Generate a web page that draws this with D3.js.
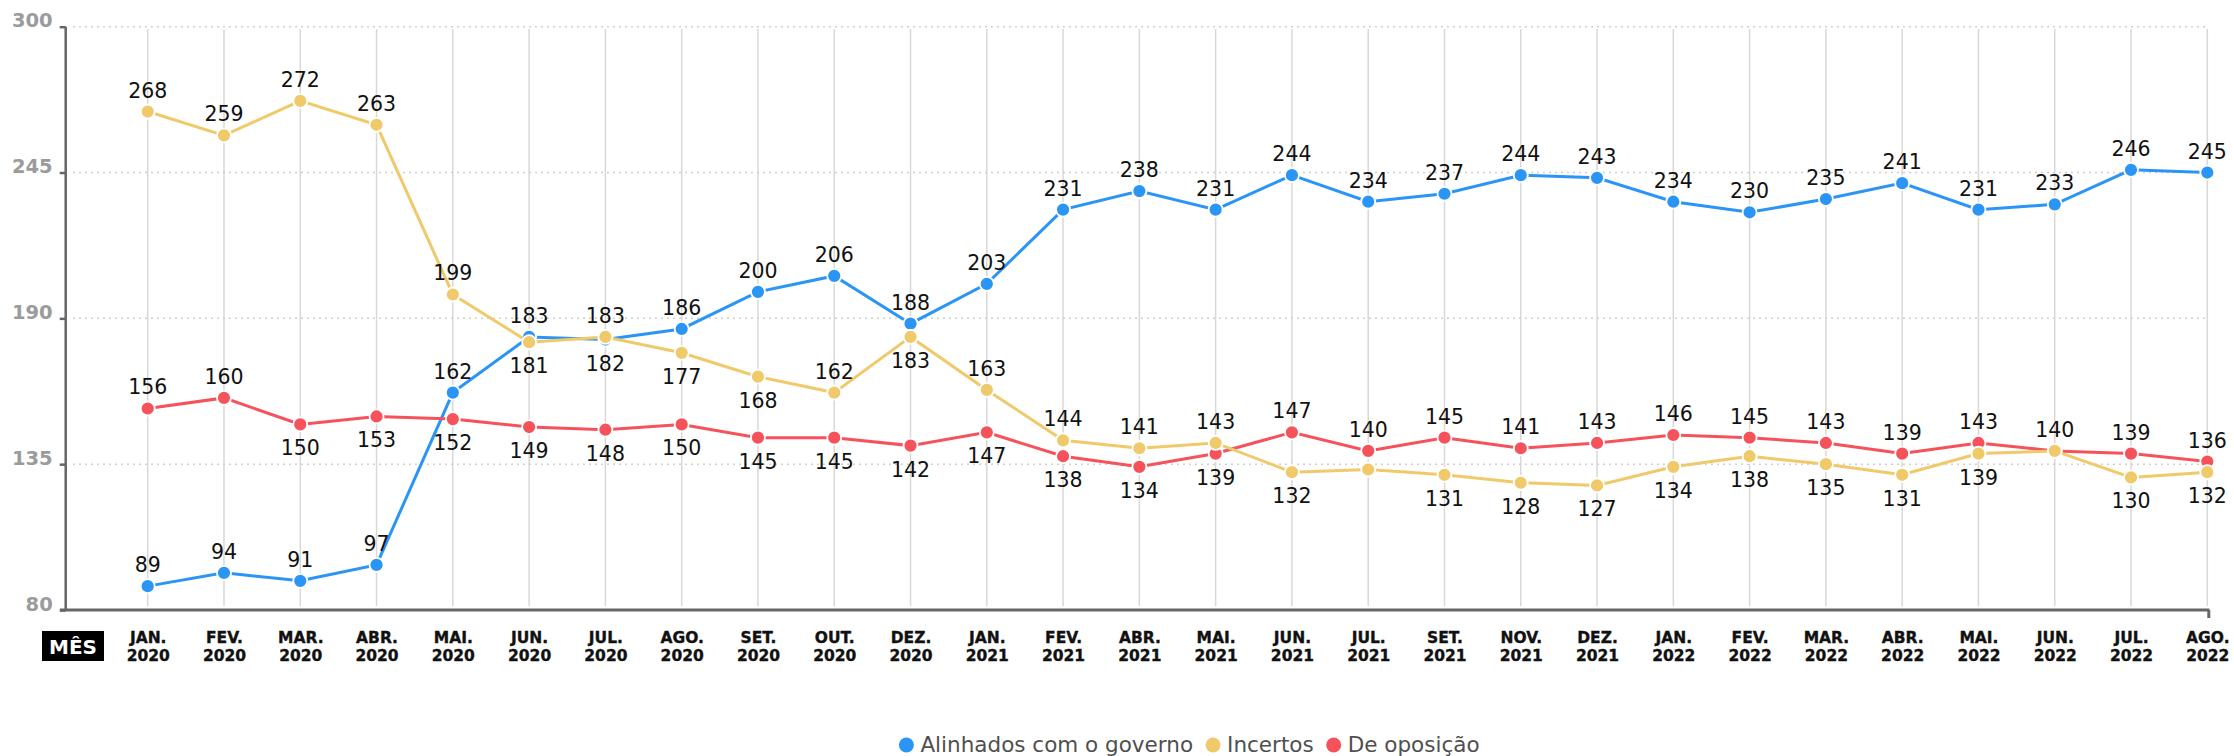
<!DOCTYPE html>
<html><head><meta charset="utf-8">
<script src="https://cdn.jsdelivr.net/npm/d3@7"></script>
<style>body{margin:0;background:#fff} svg{display:block}</style>
</head><body>
<svg id="c" width="2234" height="756"></svg>
<script>
const months = ["JAN. 2020","FEV. 2020","MAR. 2020","ABR. 2020","MAI. 2020","JUN. 2020","JUL. 2020","AGO. 2020","SET. 2020","OUT. 2020","DEZ. 2020","JAN. 2021","FEV. 2021","ABR. 2021","MAI. 2021","JUN. 2021","JUL. 2021","SET. 2021","NOV. 2021","DEZ. 2021","JAN. 2022","FEV. 2022","MAR. 2022","ABR. 2022","MAI. 2022","JUN. 2022","JUL. 2022","AGO. 2022"];
const alinhados = [89,94,91,97,162,183,182,186,200,206,188,203,231,238,231,244,234,237,244,243,234,230,235,241,231,233,246,245];
const incertos  = [268,259,272,263,199,181,183,177,168,162,183,163,144,141,143,132,133,131,128,127,134,138,135,131,139,140,130,132];
const oposicao  = [156,160,150,153,152,149,148,150,145,145,142,147,138,134,139,147,140,145,141,143,146,145,143,139,143,140,139,136];
const yTicks = [80,135,190,245,300];
const seriesNames = ["Alinhados com o governo","Incertos","De oposição"];
const seriesColors = ["#2b95f6","#f0c96a","#f6525b"];
// label placement per point: a = above, b = below, n = not shown
const placeAlinhados = "aaaaaabaaaaaaaaaaaaaaaaaaaaa";
const placeIncertos  = "aaaaababbabaaaabnbbbbbbbbnbb";
const placeOposicao  = "aabbbbbbbbbbbbbaaaaaaaaaaaaa";
const axisTitle = "MÊS";

const svg = d3.select("#c");
const x = d3.scalePoint().domain(months).range([147.7, 2207.3]);
const y = d3.scaleLinear().domain([80, 300]).range([610, 26.7]);
const FONT = "'DejaVu Sans', sans-serif";

// vertical gridlines
svg.append("g").selectAll("line").data(months).join("line")
  .attr("x1", d => x(d)).attr("x2", d => x(d))
  .attr("y1", 29).attr("y2", 606)
  .attr("stroke", "#d8d8d8").attr("stroke-width", 1.5);

// horizontal dotted gridlines
svg.append("g").selectAll("line").data(yTicks.filter(t => t > 80)).join("line")
  .attr("x1", 73).attr("x2", x(months[months.length-1]))
  .attr("y1", d => y(d)).attr("y2", d => y(d))
  .attr("stroke", "#cfcfcf").attr("stroke-width", 1.5).attr("stroke-dasharray", "2,4");

// y axis
const yAxis = svg.append("g").attr("transform", "translate(65.7,0)")
  .call(d3.axisLeft(y).tickValues(yTicks).tickSize(6).tickPadding(7));
yAxis.select(".domain").attr("stroke", "#666").attr("stroke-width", 2.5).attr("d", `M0,${y(300)}V${y(80)}`);
yAxis.selectAll(".tick line").attr("stroke", "#666").attr("stroke-width", 2.5).attr("x2", -6);
yAxis.selectAll(".tick text").attr("fill", "#9b9b9b").attr("font-family", FONT)
  .attr("font-weight", "bold").attr("font-size", 19.5).attr("dy", 0).attr("x", -13);

// x axis
const xAxis = svg.append("g").attr("transform", "translate(0,610)")
  .call(d3.axisBottom(x).tickSize(0).tickPadding(0));
xAxis.select(".domain").attr("stroke", "#666").attr("stroke-width", 3)
  .attr("d", `M60,0H${x(months[months.length-1])+2}M${x(months[months.length-1])+1.5},0V8`);
xAxis.selectAll(".tick text").each(function(d){
  const t = d3.select(this).text("").attr("font-family", FONT).attr("font-weight", "bold")
    .attr("font-size", 15.5).attr("fill", "#111").attr("stroke", "#111").attr("stroke-width", 0.35)
    .attr("y", 0).attr("dy", null);
  const parts = d.split(" ");
  t.append("tspan").attr("x", 0).attr("y", 33).text(parts[0]);
  t.append("tspan").attr("x", 0).attr("y", 51).text(parts[1]);
});

// axis title box
svg.append("rect").attr("x", 42).attr("y", 631).attr("width", 62).attr("height", 30).attr("fill", "#000");
svg.append("text").attr("x", 73).attr("y", 654).attr("text-anchor", "middle")
  .attr("font-family", FONT).attr("font-weight", "bold").attr("font-size", 20).attr("fill", "#fff").text(axisTitle);

// series
const series = [
  {name: seriesNames[0], values: alinhados, place: placeAlinhados, color: seriesColors[0]},
  {name: seriesNames[2], values: oposicao, place: placeOposicao, color: seriesColors[2]},
  {name: seriesNames[1], values: incertos, place: placeIncertos, color: seriesColors[1]}
];
const line = d3.line().x((d, i) => x(months[i])).y(d => y(d));
series.forEach(s => {
  const g = svg.append("g");
  g.append("path").datum(s.values).attr("d", line).attr("fill", "none")
    .attr("stroke", s.color).attr("stroke-width", 3);
  g.selectAll("circle").data(s.values).join("circle")
    .attr("cx", (d, i) => x(months[i])).attr("cy", d => y(d)).attr("r", 7)
    .attr("fill", s.color).attr("stroke", "#fff").attr("stroke-width", 1.8);
});
// labels
series.forEach(s => {
  svg.append("g").selectAll("text").data(s.values.map((v, i) => ({v, i, p: s.place[i]})).filter(d => d.p !== "n"))
    .join("text")
    .attr("x", d => x(months[d.i])).attr("y", d => y(d.v) + (d.p === "a" ? -14 : 31))
    .attr("text-anchor", "middle").attr("font-family", FONT).attr("font-size", 20.5)
    .attr("fill", "#111").text(d => d.v);
});

// legend
const legend = svg.append("g");
const order = [0, 1, 2];
let lx = 0;
order.forEach(k => {
  const g = legend.append("g");
  g.append("circle").attr("cx", 0).attr("cy", 745).attr("r", 7.5).attr("fill", seriesColors[k]);
  const t = g.append("text").attr("x", 14).attr("y", 752).attr("font-family", FONT)
    .attr("font-size", 21.5).attr("fill", "#4f4f4f").text(seriesNames[k]);
  const w = t.node().getComputedTextLength();
  g.attr("transform", `translate(${lx},0)`);
  lx += 14 + w + 20;
});
const total = lx - 20 + 8;
legend.attr("transform", `translate(${1189 - total / 2 + 8},0)`);
</script>
</body></html>
